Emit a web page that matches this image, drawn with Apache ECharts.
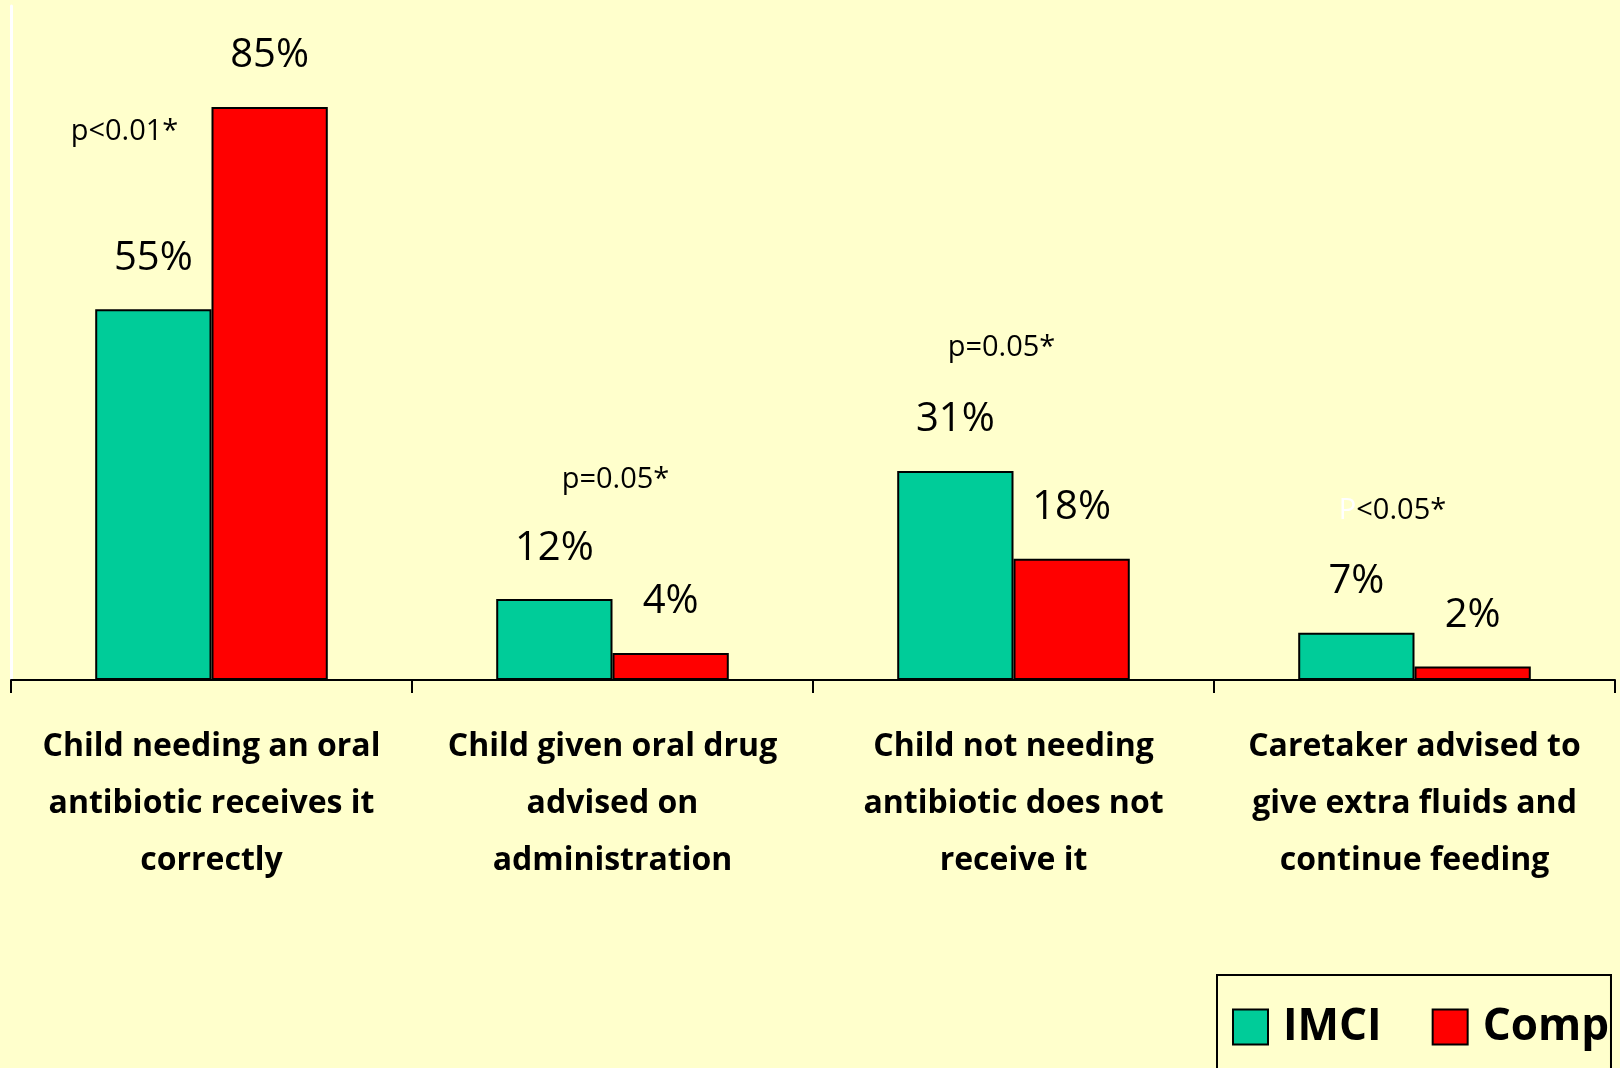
<!DOCTYPE html>
<html>
<head>
<meta charset="utf-8">
<title>IMCI vs Comp</title>
<script src="https://cdn.jsdelivr.net/npm/echarts@6/dist/echarts.min.js"></script>
<style>
    html, body { margin: 0; padding: 0; background: #FFFFCC; }
    #chart { width: 1620px; height: 1068px; }
</style>
</head>
<body>
<div id="chart"></div>
<script>
// 数据
const categories = [
    'Child needing an oral\nantibiotic receives it\ncorrectly',
    'Child given oral drug\nadvised on\nadministration',
    'Child not needing\nantibiotic does not\nreceive it',
    'Caretaker advised to\ngive extra fluids and\ncontinue feeding'
];
const imciValues = [55, 12, 31, 7];
const compValues = [85, 4, 18, 2];
const pValues = ['p<0.01*', 'p=0.05*', 'p=0.05*', 'P<0.05*'];

// p label offsets (px) from category centre / top of taller bar
const pOffsets = [[-87, 25], [3, -119], [-12, -123], [-22, -122]];

const chart = echarts.init(document.getElementById('chart'));
const textFont = '"Open Sans", "Noto Sans", sans-serif';

const option = {
    backgroundColor: '#FFFFCC',
    animation: false,
    grid: {
        left: 11,
        right: 5,
        top: 6,
        bottom: 388
    },
    legend: {
        left: 1217,
        top: 975,
        padding: [30, 2, 60, 15],
        borderColor: '#000',
        borderWidth: 2,
        itemWidth: 35,
        itemHeight: 35,
        itemGap: 50,
        icon: 'rect',
        textStyle: {
            fontFamily: textFont,
            fontWeight: 'bold',
            fontSize: 44,
            color: '#000',
            padding: [0, 0, 0, 10]
        },
        data: ['IMCI', 'Comp']
    },
    xAxis: {
        type: 'category',
        data: categories,
        axisLine: { lineStyle: { color: '#000', width: 2 } },
        axisTick: { show: true, length: 13, lineStyle: { color: '#000', width: 2 } },
        axisLabel: {
            margin: 38,
            interval: 0,
            fontFamily: textFont,
            fontWeight: 'bold',
            fontSize: 32,
            lineHeight: 57,
            color: '#000'
        }
    },
    yAxis: {
        type: 'value',
        min: 0,
        max: 100,
        axisLine: { show: true, lineStyle: { color: '#fff', width: 3 } },
        axisTick: { show: false },
        axisLabel: { show: false },
        splitLine: { show: false }
    },
    series: [
        {
            name: 'IMCI',
            type: 'bar',
            data: imciValues,
            barGap: '0%',
            barCategoryGap: '42%',
            itemStyle: { color: '#00CC99', borderColor: '#000', borderWidth: 2 },
            label: {
                show: true,
                position: 'top',
                distance: 31,
                formatter: '{c}%',
                fontFamily: textFont,
                fontSize: 40,
                color: '#000'
            }
        },
        {
            name: 'Comp',
            type: 'bar',
            data: compValues,
            itemStyle: { color: '#FF0000', borderColor: '#000', borderWidth: 2 },
            label: {
                show: true,
                position: 'top',
                distance: 31,
                formatter: '{c}%',
                fontFamily: textFont,
                fontSize: 40,
                color: '#000'
            }
        },
        {
            // p 值
            type: 'custom',
            silent: true,
            data: pValues.map(function (p, i) {
                return [i, Math.max(imciValues[i], compValues[i])];
            }),
            renderItem: function (params, api) {
                const i = params.dataIndex;
                const pt = api.coord([api.value(0), api.value(1)]);
                const txt = pValues[i];
                const first = txt.charAt(0) === 'P';
                return {
                    type: 'text',
                    x: pt[0] + pOffsets[i][0],
                    y: pt[1] + pOffsets[i][1],
                    style: {
                        text: first ? '{w|P}' + txt.slice(1) : txt,
                        fill: '#000',
                        font: '29px ' + textFont,
                        align: 'center',
                        verticalAlign: 'middle',
                        rich: {
                            w: { fill: '#fff', font: '29px ' + textFont }
                        }
                    }
                };
            }
        }
    ]
};

chart.setOption(option);
</script>
</body>
</html>
